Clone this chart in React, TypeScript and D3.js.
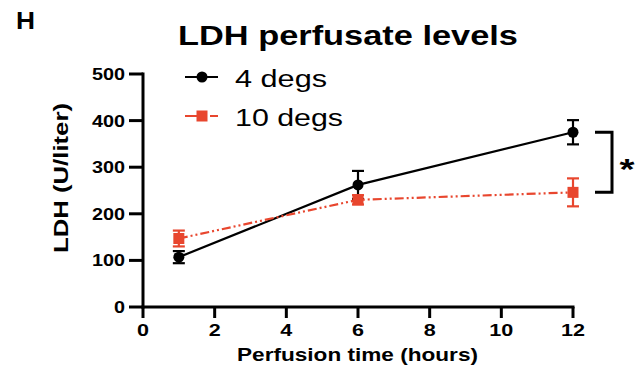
import React from 'react';
import * as d3 from 'd3';

const hours = [1, 6, 12];
const cold4Mean = [107, 262, 375];
const cold4Err = [13, 30, 26];
const cold10Mean = [147, 230, 246];
const cold10Err = [17, 10, 30];
const xTicks = [0, 2, 4, 6, 8, 10, 12];
const yTicks = [0, 100, 200, 300, 400, 500];

const W = 636;
const H = 371;
const FONT = '"Liberation Sans", Arial, Helvetica, sans-serif';
const RED = '#e8462e';

// text stretched to a measured width, like the wide font of the original
function T(props: any) {
  const { len, size, bold, children, ...rest } = props;
  return (
    <text
      fontFamily={FONT}
      fontSize={size}
      fontWeight={bold ? 'bold' : 'normal'}
      textLength={len}
      lengthAdjust="spacingAndGlyphs"
      {...rest}
    >
      {children}
    </text>
  );
}

export default function App() {
  const x = d3.scaleLinear().domain([0, 12]).range([143, 573]);
  const y = d3.scaleLinear().domain([0, 500]).range([307, 74]);
  const line = d3.line<number>().x((d, i) => x(hours[i])).y((d) => y(d));

  const series = [
    { name: '4 degs', mean: cold4Mean, err: cold4Err, color: '#000', dash: undefined, legendDash: undefined, shape: 'circle', len: 92 },
    { name: '10 degs', mean: cold10Mean, err: cold10Err, color: RED, dash: '9 3 2 3 2 3', legendDash: '21 4 8', shape: 'square', len: 108 },
  ];

  const marker = (shape: string, cx: number, cy: number, color: string, key: any) =>
    shape === 'circle' ? (
      <circle key={key} cx={cx} cy={cy} r={5.5} fill={color} />
    ) : (
      <rect key={key} x={cx - 5.5} y={cy - 5.5} width={11} height={11} fill={color} />
    );

  const last = hours.length - 1;
  const bx0 = 595;
  const bx1 = 612;
  const by0 = y(cold4Mean[last]);
  const by1 = y(cold10Mean[last]);

  return (
    <svg width={W} height={H} style={{ position: 'absolute', left: 0, top: 0, background: '#fff' }}>
      <T x={16} y={29} size={24} bold len={19}>H</T>
      <T x={178} y={45} size={27} bold len={340}>LDH perfusate levels</T>

      {/* axes */}
      <g stroke="#000" strokeWidth={3} fill="none">
        <line x1={x(0)} x2={x(0)} y1={y(500) - 1.5} y2={y(0) + 1.5} />
        <line x1={x(0) - 1.5} x2={x(12) + 1.5} y1={y(0)} y2={y(0)} />
        {yTicks.map((t) => (
          <line key={'yt' + t} x1={x(0) - 14} x2={x(0)} y1={y(t)} y2={y(t)} />
        ))}
        {xTicks.map((t) => (
          <line key={'xt' + t} x1={x(t)} x2={x(t)} y1={y(0)} y2={y(0) + 11} />
        ))}
      </g>
      {yTicks.map((t) => (
        <T key={'yl' + t} x={125} y={y(t) + 6} textAnchor="end" size={16.5} bold len={11 * String(t).length}>
          {t}
        </T>
      ))}
      {xTicks.map((t) => (
        <T key={'xl' + t} x={x(t)} y={336} textAnchor="middle" size={16.5} bold len={12 * String(t).length}>
          {t}
        </T>
      ))}
      <T x={237} y={361} size={18.5} bold len={241}>Perfusion time (hours)</T>
      <T
        transform={`translate(68,${178}) rotate(-90)`}
        textAnchor="middle"
        size={20}
        bold
        len={150}
      >
        LDH (U/liter)
      </T>

      {/* series */}
      {series.map((s) => (
        <g key={s.name}>
          <path d={line(s.mean) || ''} fill="none" stroke={s.color} strokeWidth={2.2} strokeDasharray={s.dash} />
          {s.mean.map((m, i) => {
            const cx = x(hours[i]);
            return (
              <g key={i} stroke={s.color} strokeWidth={2.2}>
                <line x1={cx} x2={cx} y1={y(m + s.err[i])} y2={y(m - s.err[i])} />
                <line x1={cx - 6} x2={cx + 6} y1={y(m + s.err[i])} y2={y(m + s.err[i])} />
                <line x1={cx - 6} x2={cx + 6} y1={y(m - s.err[i])} y2={y(m - s.err[i])} />
              </g>
            );
          })}
          {s.mean.map((m, i) => marker(s.shape, x(hours[i]), y(m), s.color, 'm' + i))}
        </g>
      ))}

      {/* significance bracket */}
      <path d={`M${bx0},${by0}H${bx1}V${by1}H${bx0}`} fill="none" stroke="#000" strokeWidth={3} />
      <T x={627} y={179} textAnchor="middle" size={30} bold len={15}>*</T>

      {/* legend */}
      {series.map((s, i) => {
        const ly = 77 + i * 39;
        return (
          <g key={'lg' + i}>
            <line x1={185} x2={218} y1={ly} y2={ly} stroke={s.color} strokeWidth={2.2} strokeDasharray={s.legendDash} />
            {marker(s.shape, 202, ly, s.color, 'lm')}
            <T x={235} y={ly + 10} size={23} len={s.len}>{s.name}</T>
          </g>
        );
      })}
    </svg>
  );
}
